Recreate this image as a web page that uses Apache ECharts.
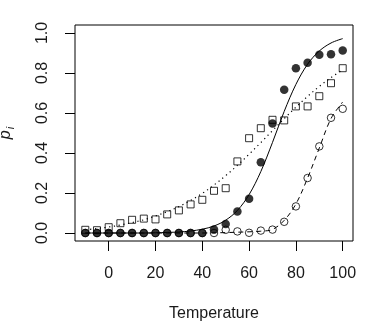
<!DOCTYPE html>
<html>
<head>
<meta charset="utf-8">
<script src="https://cdn.jsdelivr.net/npm/echarts@6/dist/echarts.min.js"></script>
<style>html,body{margin:0;padding:0;background:#fff}#c{width:375px;height:334px}</style>
</head>
<body>
<div id="c"></div>
<script>
const temperature = [-10,-5,0,5,10,15,20,25,30,35,40,45,50,55,60,65,70,75,80,85,90,95,100];
const filledCircles = [0,0,0,0,0,0,0,0,0,0,0,0.018,0.045,0.108,0.171,0.354,0.547,0.716,0.824,0.851,0.891,0.894,0.913];
const openSquares = [0.016,0.014,0.029,0.049,0.066,0.072,0.068,0.093,0.113,0.143,0.166,0.211,0.224,0.358,0.474,0.524,0.566,0.563,0.633,0.633,0.684,0.749,0.824];
const openCircles = [0,0,0,0,0,0,0,0,0,0,0,0,0.016,0.008,0.001,0.012,0.017,0.056,0.133,0.275,0.433,0.576,0.621];
const solidCurve = [0,0,0,0,0,0,0.001,0.003,0.005,0.01,0.019,0.035,0.064,0.113,0.192,0.307,0.453,0.608,0.743,0.844,0.91,0.95,0.972];
const dottedCurve = [0.016,0.022,0.03,0.04,0.052,0.066,0.085,0.107,0.132,0.163,0.198,0.24,0.287,0.338,0.394,0.452,0.512,0.572,0.629,0.683,0.733,0.777,0.816];
const dashedCurve = [0,0,0,0,0,0,0,0,0,0,0,0.001,0.002,0.004,0.006,0.009,0.018,0.063,0.145,0.275,0.425,0.572,0.655];
const xTickValues = [0,20,40,60,80,100];
const yTickValues = [0,0.2,0.4,0.6,0.8,1.0];

const pairs = ys => temperature.map((x, i) => [x, ys[i]]);
const ink = '#000';
const textInk = '#1a1a1a';
const font = 'Liberation Sans, Arial, sans-serif';

const chart = echarts.init(document.getElementById('c'), null, {renderer: 'canvas'});
chart.setOption({
  animation: false,
  backgroundColor: '#fff',
  grid: {left: 75, right: 22, top: 25, bottom: 93, containLabel: false, outerBoundsMode: 'none',
         show: true, borderColor: ink, borderWidth: 1, backgroundColor: 'transparent'},
  xAxis: {
    type: 'value', min: -14.4, max: 104.4,
    name: 'Temperature', nameLocation: 'middle', nameGap: 65,
    nameTextStyle: {color: textInk, fontSize: 16, fontFamily: font},
    axisLine: {show: false, onZero: false},
    splitLine: {show: false},
    axisTick: {show: true, length: 10, inside: false, lineStyle: {color: ink}, customValues: xTickValues},
    axisLabel: {color: textInk, fontSize: 16, fontFamily: font, margin: 25, customValues: xTickValues, formatter: v => String(v)}
  },
  yAxis: {
    type: 'value', min: -0.04, max: 1.04,
    name: '{p|p}{i|i}', nameLocation: 'middle', nameGap: 59, nameRotate: 90,
    nameTextStyle: {
      color: textInk, fontFamily: font,
      rich: {
        p: {fontSize: 16, fontStyle: 'italic', fontFamily: font, color: textInk, lineHeight: 20, verticalAlign: 'middle'},
        i: {fontSize: 11, fontStyle: 'italic', fontFamily: font, color: textInk, lineHeight: 20, verticalAlign: 'bottom', padding: [0,0,0,1]}
      }
    },
    axisLine: {show: false, onZero: false},
    splitLine: {show: false},
    axisTick: {show: true, length: 10, inside: false, lineStyle: {color: ink}, customValues: yTickValues},
    axisLabel: {color: textInk, fontSize: 16, fontFamily: font, margin: 24, rotate: 90, customValues: yTickValues, formatter: v => v.toFixed(1)}
  },
  series: [
    {type: 'line', data: pairs(solidCurve), smooth: 0.35, showSymbol: false, z: 2,
     lineStyle: {color: ink, width: 1, type: 'solid'}},
    {type: 'line', data: pairs(dottedCurve), smooth: 0.35, showSymbol: false, z: 2,
     lineStyle: {color: ink, width: 1.2, type: [1.2, 3.6]}},
    {type: 'line', data: pairs(dashedCurve), smooth: 0.35, showSymbol: false, z: 2,
     lineStyle: {color: ink, width: 1, type: [5, 4]}},
    {type: 'scatter', data: pairs(openSquares), symbol: 'rect', symbolSize: 7, z: 3,
     itemStyle: {color: 'rgba(0,0,0,0)', borderColor: ink, borderWidth: 1}},
    {type: 'scatter', data: pairs(openCircles), symbol: 'circle', symbolSize: 7.5, z: 3,
     itemStyle: {color: 'rgba(0,0,0,0)', borderColor: ink, borderWidth: 1}},
    {type: 'scatter', data: pairs(filledCircles), symbol: 'circle', symbolSize: 8.5, z: 4,
     itemStyle: {color: ink, borderColor: ink, borderWidth: 0}}
  ]
});
</script>
</body>
</html>
